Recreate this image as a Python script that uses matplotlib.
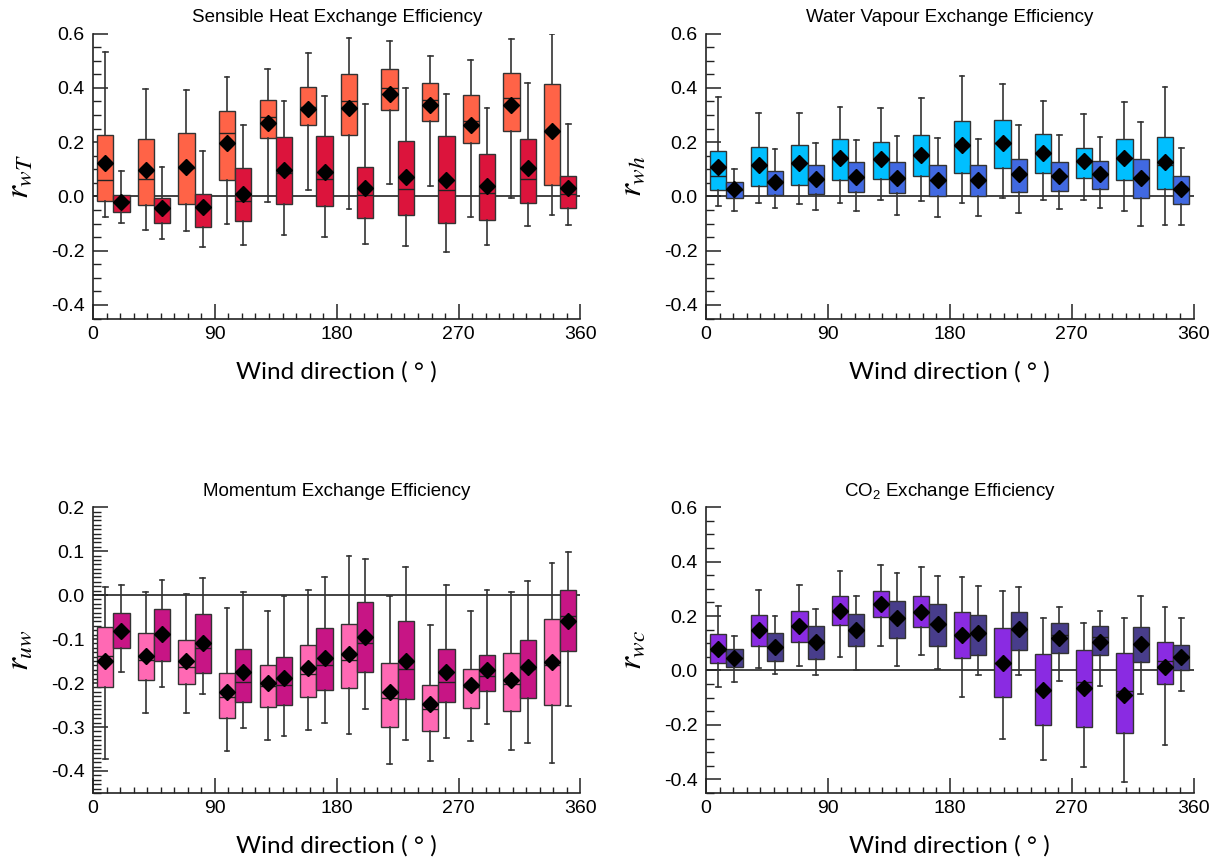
import matplotlib
matplotlib.use("Agg")
import matplotlib.pyplot as plt
from matplotlib.ticker import MultipleLocator, FormatStrFormatter

plt.rcParams['font.family'] = ['Liberation Sans', 'DejaVu Sans']
plt.rcParams['mathtext.fontset'] = 'custom'
plt.rcParams['mathtext.rm'] = 'Liberation Sans'
plt.rcParams['mathtext.it'] = 'Liberation Sans:italic'

# wind sectors (start of each 30 degree bin)
SECTORS = [0, 30, 60, 90, 120, 150, 180, 210, 240, 270, 300, 330]

# each entry: (whisker low, Q1, median, Q3, whisker high, mean)
heat_a = [(-0.076, -0.017, 0.059, 0.228, 0.533, 0.125), (-0.123, -0.032, 0.066, 0.210, 0.396, 0.098),
          (-0.126, -0.028, 0.105, 0.232, 0.391, 0.110), (-0.103, 0.060, 0.232, 0.315, 0.440, 0.196),
          (-0.021, 0.216, 0.292, 0.355, 0.471, 0.272), (0.025, 0.263, 0.331, 0.405, 0.528, 0.321),
          (-0.047, 0.227, 0.353, 0.452, 0.585, 0.326), (0.047, 0.317, 0.401, 0.469, 0.574, 0.377),
          (0.039, 0.279, 0.356, 0.418, 0.519, 0.336), (-0.076, 0.196, 0.277, 0.372, 0.504, 0.265),
          (-0.005, 0.240, 0.361, 0.454, 0.579, 0.336), (-0.067, 0.041, 0.240, 0.416, 0.599, 0.240)]
heat_b = [(-0.098, -0.056, -0.015, 0.005, 0.093, -0.020), (-0.158, -0.097, -0.040, -0.004, 0.110, -0.042),
          (-0.185, -0.113, -0.040, 0.009, 0.166, -0.040), (-0.180, -0.092, -0.017, 0.103, 0.264, 0.010),
          (-0.142, -0.028, 0.085, 0.220, 0.350, 0.098), (-0.151, -0.036, 0.066, 0.221, 0.371, 0.091),
          (-0.175, -0.079, 0.005, 0.108, 0.339, 0.031), (-0.183, -0.067, 0.029, 0.205, 0.398, 0.070),
          (-0.204, -0.097, 0.023, 0.222, 0.379, 0.060), (-0.178, -0.085, 0.011, 0.158, 0.325, 0.039),
          (-0.110, -0.023, 0.064, 0.211, 0.418, 0.103), (-0.106, -0.042, 0.008, 0.074, 0.267, 0.030)]

wv_a = [(-0.037, 0.022, 0.076, 0.166, 0.367, 0.108), (-0.024, 0.037, 0.115, 0.181, 0.307, 0.117),
        (-0.028, 0.042, 0.122, 0.188, 0.307, 0.122), (-0.023, 0.059, 0.142, 0.213, 0.331, 0.142),
        (-0.013, 0.065, 0.138, 0.200, 0.324, 0.138), (-0.015, 0.076, 0.154, 0.225, 0.363, 0.154),
        (-0.024, 0.087, 0.187, 0.278, 0.445, 0.189), (-0.005, 0.106, 0.197, 0.280, 0.416, 0.197),
        (-0.013, 0.086, 0.159, 0.229, 0.351, 0.159), (-0.013, 0.067, 0.130, 0.178, 0.303, 0.130),
        (-0.053, 0.061, 0.141, 0.211, 0.348, 0.141), (-0.105, 0.027, 0.114, 0.219, 0.405, 0.127)]
wv_b = [(-0.055, -0.004, 0.025, 0.054, 0.101, 0.026), (-0.043, 0.006, 0.056, 0.095, 0.175, 0.053),
        (-0.049, 0.010, 0.065, 0.117, 0.196, 0.065), (-0.053, 0.015, 0.071, 0.127, 0.208, 0.071),
        (-0.070, 0.012, 0.068, 0.127, 0.222, 0.068), (-0.075, 0.002, 0.061, 0.117, 0.214, 0.062),
        (-0.071, 0.002, 0.061, 0.115, 0.213, 0.061), (-0.061, 0.016, 0.083, 0.139, 0.263, 0.083),
        (-0.046, 0.020, 0.077, 0.128, 0.226, 0.076), (-0.043, 0.028, 0.083, 0.132, 0.220, 0.083),
        (-0.109, -0.005, 0.067, 0.139, 0.274, 0.068), (-0.105, -0.028, 0.026, 0.075, 0.178, 0.026)]

mom_a = [(-0.373, -0.210, -0.138, -0.073, 0.018, -0.151), (-0.267, -0.193, -0.147, -0.087, 0.008, -0.138),
         (-0.267, -0.202, -0.163, -0.101, 0.003, -0.150), (-0.355, -0.280, -0.232, -0.177, -0.029, -0.220),
         (-0.329, -0.254, -0.206, -0.160, -0.037, -0.201), (-0.306, -0.232, -0.179, -0.114, 0.012, -0.166),
         (-0.315, -0.212, -0.147, -0.065, 0.089, -0.134), (-0.385, -0.300, -0.234, -0.155, -0.002, -0.220),
         (-0.377, -0.308, -0.260, -0.205, -0.069, -0.247), (-0.332, -0.256, -0.210, -0.169, -0.037, -0.204),
         (-0.353, -0.264, -0.202, -0.131, 0.006, -0.192), (-0.382, -0.249, -0.160, -0.054, 0.072, -0.153)]
mom_b = [(-0.176, -0.121, -0.081, -0.041, 0.022, -0.081), (-0.209, -0.149, -0.090, -0.032, 0.034, -0.089),
         (-0.224, -0.177, -0.121, -0.044, 0.038, -0.108), (-0.302, -0.243, -0.197, -0.123, 0.008, -0.176),
         (-0.321, -0.251, -0.205, -0.140, -0.003, -0.189), (-0.291, -0.215, -0.160, -0.074, 0.040, -0.142),
         (-0.258, -0.175, -0.109, -0.015, 0.083, -0.096), (-0.329, -0.236, -0.169, -0.060, 0.063, -0.150),
         (-0.324, -0.242, -0.198, -0.123, 0.022, -0.176), (-0.294, -0.218, -0.185, -0.137, 0.011, -0.170),
         (-0.337, -0.234, -0.169, -0.102, 0.032, -0.163), (-0.253, -0.128, -0.048, 0.012, 0.097, -0.060)]

co2_a = [(-0.060, 0.026, 0.070, 0.135, 0.238, 0.079), (0.010, 0.091, 0.149, 0.202, 0.296, 0.149),
         (0.015, 0.106, 0.165, 0.220, 0.314, 0.165), (0.049, 0.166, 0.217, 0.272, 0.365, 0.217),
         (0.091, 0.196, 0.243, 0.291, 0.387, 0.243), (0.055, 0.160, 0.216, 0.272, 0.379, 0.216),
         (-0.096, 0.047, 0.131, 0.213, 0.345, 0.131), (-0.252, -0.096, 0.028, 0.155, 0.293, 0.028),
         (-0.329, -0.202, -0.070, 0.062, 0.191, -0.070), (-0.353, -0.207, -0.044, 0.075, 0.176, -0.064),
         (-0.410, -0.231, -0.075, 0.063, 0.192, -0.089), (-0.273, -0.050, 0.036, 0.106, 0.232, 0.014)]
co2_b = [(-0.042, 0.014, 0.044, 0.079, 0.128, 0.044), (-0.014, 0.036, 0.087, 0.138, 0.200, 0.087),
         (-0.018, 0.042, 0.103, 0.164, 0.225, 0.103), (0.001, 0.089, 0.149, 0.208, 0.273, 0.149),
         (0.017, 0.118, 0.191, 0.257, 0.357, 0.191), (0.004, 0.089, 0.171, 0.245, 0.346, 0.171),
         (-0.017, 0.055, 0.137, 0.204, 0.310, 0.137), (-0.017, 0.076, 0.151, 0.213, 0.308, 0.151),
         (-0.038, 0.063, 0.131, 0.176, 0.233, 0.118), (-0.058, 0.058, 0.122, 0.164, 0.218, 0.106),
         (-0.088, 0.030, 0.097, 0.160, 0.275, 0.097), (-0.074, 0.001, 0.053, 0.095, 0.191, 0.050)]

PANELS = [
    ("Sensible Heat Exchange Efficiency", r"$r_{wT}$", heat_a, heat_b, "#FF6347", "#DC143C", 0.6, 0.2, 0.05),
    ("Water Vapour Exchange Efficiency", r"$r_{wh}$", wv_a, wv_b, "#00BFFF", "#4169E1", 0.6, 0.2, 0.05),
    ("Momentum Exchange Efficiency", r"$r_{uw}$", mom_a, mom_b, "#FF69B4", "#C71585", 0.2, 0.1, 0.01),
    ("CO$_2$ Exchange Efficiency", r"$r_{wc}$", co2_a, co2_b, "#8A2BE2", "#483D8B", 0.6, 0.2, 0.05),
]

AX_RECTS = [[0.0762, 0.630, 0.3996, 0.331], [0.5787, 0.630, 0.3996, 0.331],
            [0.0762, 0.079, 0.3996, 0.332], [0.5787, 0.079, 0.3996, 0.332]]


def to_stats(rows):
    return [dict(whislo=r[0], q1=r[1], med=r[2], q3=r[3], whishi=r[4], mean=r[5], fliers=[])
            for r in rows]


fig = plt.figure(figsize=(12.2, 8.61), dpi=100)

for rect, (title, ylab, da, db, ca, cb, ytop, ymaj, ymin) in zip(AX_RECTS, PANELS):
    ax = fig.add_axes(rect)
    ax.axhline(0, color="#222222", lw=1.2, zorder=1)
    for rows, col, off in ((da, ca, 9), (db, cb, 21)):
        pos = [s + off for s in SECTORS]
        ax.bxp(to_stats(rows), positions=pos, widths=12, capwidths=3.5,
               patch_artist=True, showmeans=True, showfliers=False,
               boxprops=dict(facecolor=col, edgecolor="#333333", linewidth=1.0),
               medianprops=dict(color="#222222", linewidth=1.0),
               whiskerprops=dict(color="#333333", linewidth=1.2),
               capprops=dict(color="#333333", linewidth=1.2),
               meanprops=dict(marker="D", markerfacecolor="black", markeredgecolor="black",
                              markersize=7.8))
    ax.set_xlim(0, 360)
    ax.set_ylim(-0.45, ytop)
    ax.xaxis.set_major_locator(MultipleLocator(90))
    ax.xaxis.set_minor_locator(MultipleLocator(10))
    ax.xaxis.set_major_formatter(FormatStrFormatter("%d"))
    ax.yaxis.set_major_locator(MultipleLocator(ymaj))
    ax.yaxis.set_minor_locator(MultipleLocator(ymin))
    ax.yaxis.set_major_formatter(FormatStrFormatter("%.1f"))
    ax.spines["top"].set_visible(False)
    ax.spines["right"].set_visible(False)
    for sp in ("left", "bottom"):
        ax.spines[sp].set_linewidth(1.2)
        ax.spines[sp].set_color("#222222")
    ax.tick_params(which="major", direction="in", length=11, width=1.1, labelsize=14, color="#222222")
    ax.tick_params(axis="x", which="major", pad=5)
    ax.tick_params(axis="y", which="major", pad=6)
    ax.tick_params(axis="x", which="minor", direction="in", length=4.5, width=1.0, color="#222222")
    ax.tick_params(axis="y", which="minor", direction="in", length=5.5, width=1.0, color="#222222")
    ax.set_title(title, fontsize=13.5, pad=8)
    ax.set_xlabel("Wind direction ( \u00b0 )", fontfamily="Lato", fontsize=17.5, labelpad=13)
    ax.set_ylabel(ylab, fontsize=24, labelpad=12, math_fontfamily="stix")

fig.savefig("out.png", dpi=100)
